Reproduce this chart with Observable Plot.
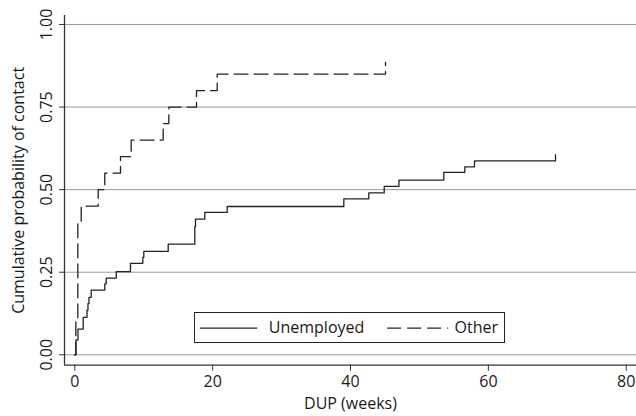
<!DOCTYPE html>
<html><head><meta charset="utf-8">
<script src="https://cdn.jsdelivr.net/npm/d3@7"></script>
<script src="https://cdn.jsdelivr.net/npm/@observablehq/plot@0.6"></script>
<style>
html,body{margin:0;padding:0;background:#fff;}
#wrap{position:relative;width:636px;height:416px;overflow:hidden;font-family:"Open Sans",sans-serif;color:#1a1a1a;}
#legend{position:absolute;left:193.5px;top:311.5px;width:311px;height:31px;box-sizing:border-box;border:1px solid #222;background:#fff;}
#legend svg{position:absolute;left:0;top:0;}
</style></head><body><div id="wrap"></div>
<script>
// Data (Kaplan-Meier style step curves)
const seriesNames = ["Unemployed", "Other"];
const unempX = [0, 0.17, 0.46, 1.22, 1.77, 1.91, 2.06, 2.38, 4.35, 4.56, 6.01, 8.08, 9.87, 10.01, 13.55, 17.41, 17.51, 18.86, 22.11, 39.03, 42.65, 44.89, 47.03, 53.53, 56.58, 57.99, 69.74];
const unempY = [0, 0.045, 0.078, 0.113, 0.135, 0.155, 0.174, 0.196, 0.215, 0.232, 0.252, 0.277, 0.295, 0.313, 0.335, 0.388, 0.411, 0.431, 0.449, 0.472, 0.490, 0.510, 0.529, 0.552, 0.569, 0.587, 0.606];
const otherX = [0, 0.15, 0.44, 0.93, 3.39, 4.35, 6.63, 8.18, 12.82, 13.64, 17.66, 20.66, 45.08];
const otherY = [0, 0.10, 0.40, 0.45, 0.50, 0.55, 0.60, 0.65, 0.70, 0.75, 0.80, 0.85, 0.885];
const xTicks = [0, 20, 40, 60, 80];
const yTicks = [0, 0.25, 0.5, 0.75, 1];
const yTickLabels = ["0.00", "0.25", "0.50", "0.75", "1.00"];
const xTitle = "DUP (weeks)";
const yTitle = "Cumulative probability of contact";

const xDomain = [-1.494, 81.49];
const yDomain = [-0.0315, 1.0272];

const unempRows = unempX.map((x, i) => ({x, y: unempY[i]}));
const otherRows = otherX.map((x, i) => ({x, y: otherY[i]}));

const ink = "#1a1a1a";
const plot = Plot.plot({
  width: 636, height: 416,
  marginLeft: 64, marginRight: 0, marginTop: 15, marginBottom: 51.3,
  x: {domain: xDomain, label: null},
  y: {domain: yDomain, label: null},
  style: {fontFamily: '"Open Sans", sans-serif', fontSize: "16px", color: ink, background: "#fff", overflow: "visible"},
  marks: [
    Plot.ruleY(yTicks, {stroke: "#9a9a9a", strokeWidth: 1}),
    Plot.ruleX([xDomain[0]], {stroke: "#333", strokeWidth: 1.3}),
    Plot.ruleY([yDomain[0]], {stroke: "#333", strokeWidth: 1.3}),
    Plot.axisX({ticks: xTicks, tickSize: 6, tickPadding: 4, label: null, stroke: "#333", fill: ink}),
    Plot.axisY({ticks: yTicks, tickSize: 5, tickFormat: () => "", label: null, stroke: "#333"}),
    Plot.text(yTicks, {y: d => d, text: (d, i) => yTickLabels[i], frameAnchor: "left", rotate: -90, dx: -13, lineAnchor: "bottom", textAnchor: "middle", fill: ink}),
    Plot.text([yTitle], {text: d => d, frameAnchor: "left", rotate: -90, dx: -40.7, lineAnchor: "bottom", textAnchor: "middle", fill: ink}),
    Plot.text([xTitle], {text: d => d, frameAnchor: "bottom", dy: 43.6, lineAnchor: "bottom", textAnchor: "middle", fill: ink}),
    Plot.line(unempRows, {x: "x", y: "y", curve: "step-after", stroke: "#222", strokeWidth: 1.3}),
    Plot.line(otherRows, {x: "x", y: "y", curve: "step-after", stroke: "#222", strokeWidth: 1.3, strokeDasharray: "14,6"})
  ]
});
const wrap = document.getElementById("wrap");
wrap.appendChild(plot);

// Legend (boxed, inside plot area)
const leg = document.createElement("div");
leg.id = "legend";
leg.innerHTML = `<svg width="309" height="29" style="font-family:'Open Sans',sans-serif;font-size:16px;">
  <line x1="4.8" x2="62.2" y1="15.2" y2="15.2" stroke="#222" stroke-width="1.3"/>
  <text x="73.8" y="19.8" fill="${ink}">${seriesNames[0]}</text>
  <line x1="192.2" x2="253.2" y1="15.2" y2="15.2" stroke="#222" stroke-width="1.3" stroke-dasharray="14,6"/>
  <text x="259.5" y="19.8" fill="${ink}">${seriesNames[1]}</text>
</svg>`;
wrap.appendChild(leg);
</script>
</body></html>
